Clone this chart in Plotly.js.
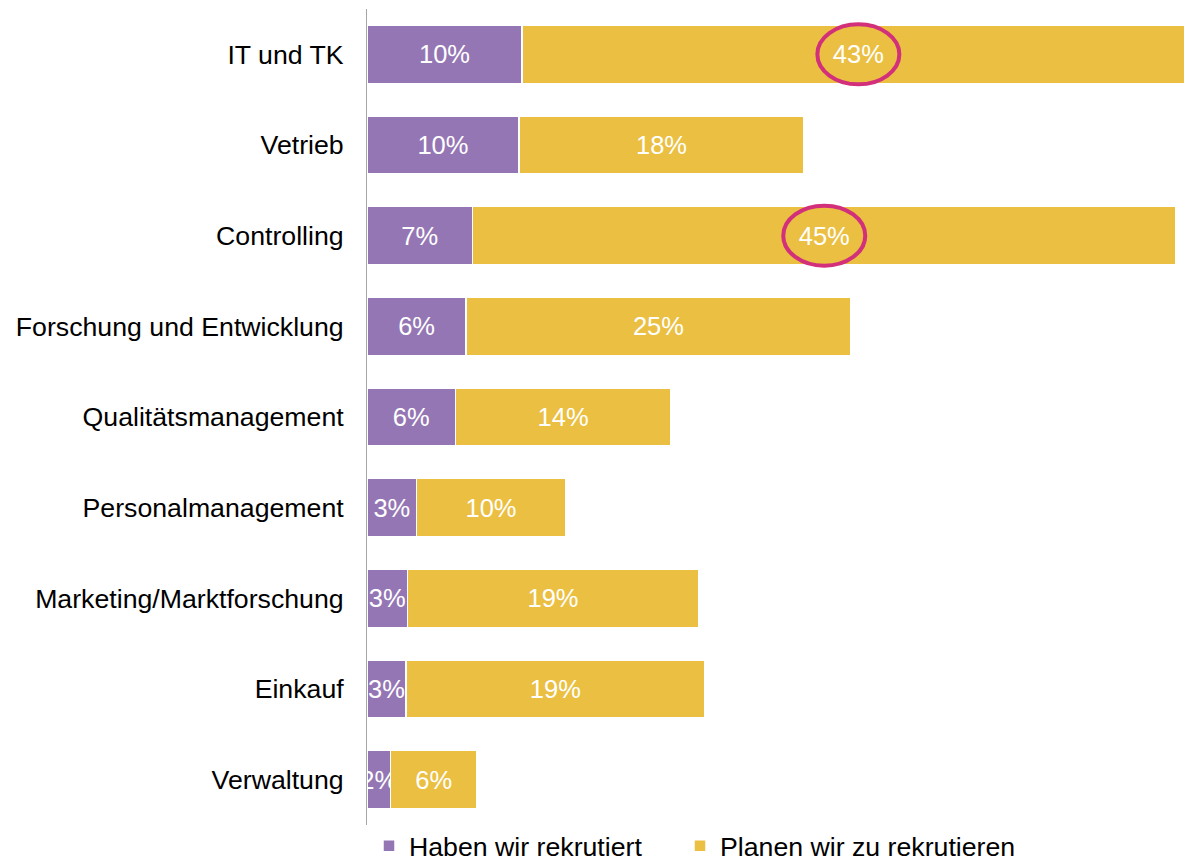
<!DOCTYPE html>
<html>
<head>
<meta charset="utf-8">
<script src="https://cdn.plot.ly/plotly-3.0.1.min.js"></script>
<style>html,body{margin:0;padding:0;background:#fff;}#chart{width:1184px;height:862px;}</style>
</head>
<body>
<div id="chart"></div>
<script>
const categories = ["IT und TK","Vetrieb","Controlling","Forschung und Entwicklung","Qualitätsmanagement","Personalmanagement","Marketing/Marktforschung","Einkauf","Verwaltung"];
const habenValues = [10.0, 9.8, 6.8, 6.4, 5.7, 3.2, 2.6, 2.5, 1.5];
const planenValues = [43.4, 18.4, 45.4, 24.8, 13.9, 9.6, 18.8, 19.3, 5.6];
const seriesNames = ["Haben wir rekrutiert", "Planen wir zu rekrutieren"];
const highlighted = ["IT und TK", "Controlling"];

const FONT = '"Liberation Sans", Arial, sans-serif';
const purple = '#9576B4';
const yellow = '#EBBF42';
const ringColor = '#D2307A';

function barTrace(name, values, color, legendId) {
  return {
    type: 'bar', orientation: 'h', name: name, legend: legendId,
    y: categories, x: values,
    marker: {color: color, line: {color: '#ffffff', width: 1.5}},
    texttemplate: '%{x:.0f}%', textposition: 'inside', insidetextanchor: 'middle',
    textangle: 0, constraintext: 'none', cliponaxis: true,
    insidetextfont: {color: '#ffffff', size: 25.5, family: FONT},
    hoverinfo: 'skip'
  };
}

const traces = [
  barTrace(seriesNames[0], habenValues, purple, 'legend'),
  barTrace(seriesNames[1], planenValues, yellow, 'legend2')
];

const shapes = highlighted.map(cat => {
  const i = categories.indexOf(cat);
  const cx = habenValues[i] + planenValues[i] / 2;
  return {
    type: 'circle', xref: 'x', yref: 'y',
    xsizemode: 'pixel', ysizemode: 'pixel',
    xanchor: cx, yanchor: cat,
    x0: -41, x1: 41, y0: -30, y1: 30,
    line: {color: ringColor, width: 4}, fillcolor: 'rgba(0,0,0,0)'
  };
});

function legendBox(xPx) {
  return {
    orientation: 'h', xref: 'container', yref: 'container',
    x: xPx / 1184, xanchor: 'left', y: 40 / 862, yanchor: 'top',
    font: {size: 26.7, color: '#000000', family: FONT},
    bgcolor: 'rgba(0,0,0,0)', borderwidth: 0
  };
}

const layout = {
  width: 1184, height: 862,
  margin: {l: 367, r: 0, t: 9, b: 37, pad: 0, autoexpand: false},
  paper_bgcolor: '#ffffff', plot_bgcolor: '#ffffff',
  barmode: 'stack', bargap: 0.36,
  font: {family: FONT, color: '#000000', size: 26.7},
  xaxis: {range: [0, 52.71], visible: false, fixedrange: true},
  yaxis: {
    autorange: 'reversed', showline: true, linecolor: '#A6A6A6', linewidth: 1,
    showgrid: false, zeroline: false, ticks: '', ticklabelstandoff: 17,
    tickfont: {size: 26.7, color: '#000000', family: FONT}, fixedrange: true
  },
  showlegend: true,
  legend: legendBox(369),
  legend2: legendBox(680),
  shapes: shapes
};

Plotly.newPlot('chart', traces, layout, {displayModeBar: false, staticPlot: true});
</script>
</body>
</html>
